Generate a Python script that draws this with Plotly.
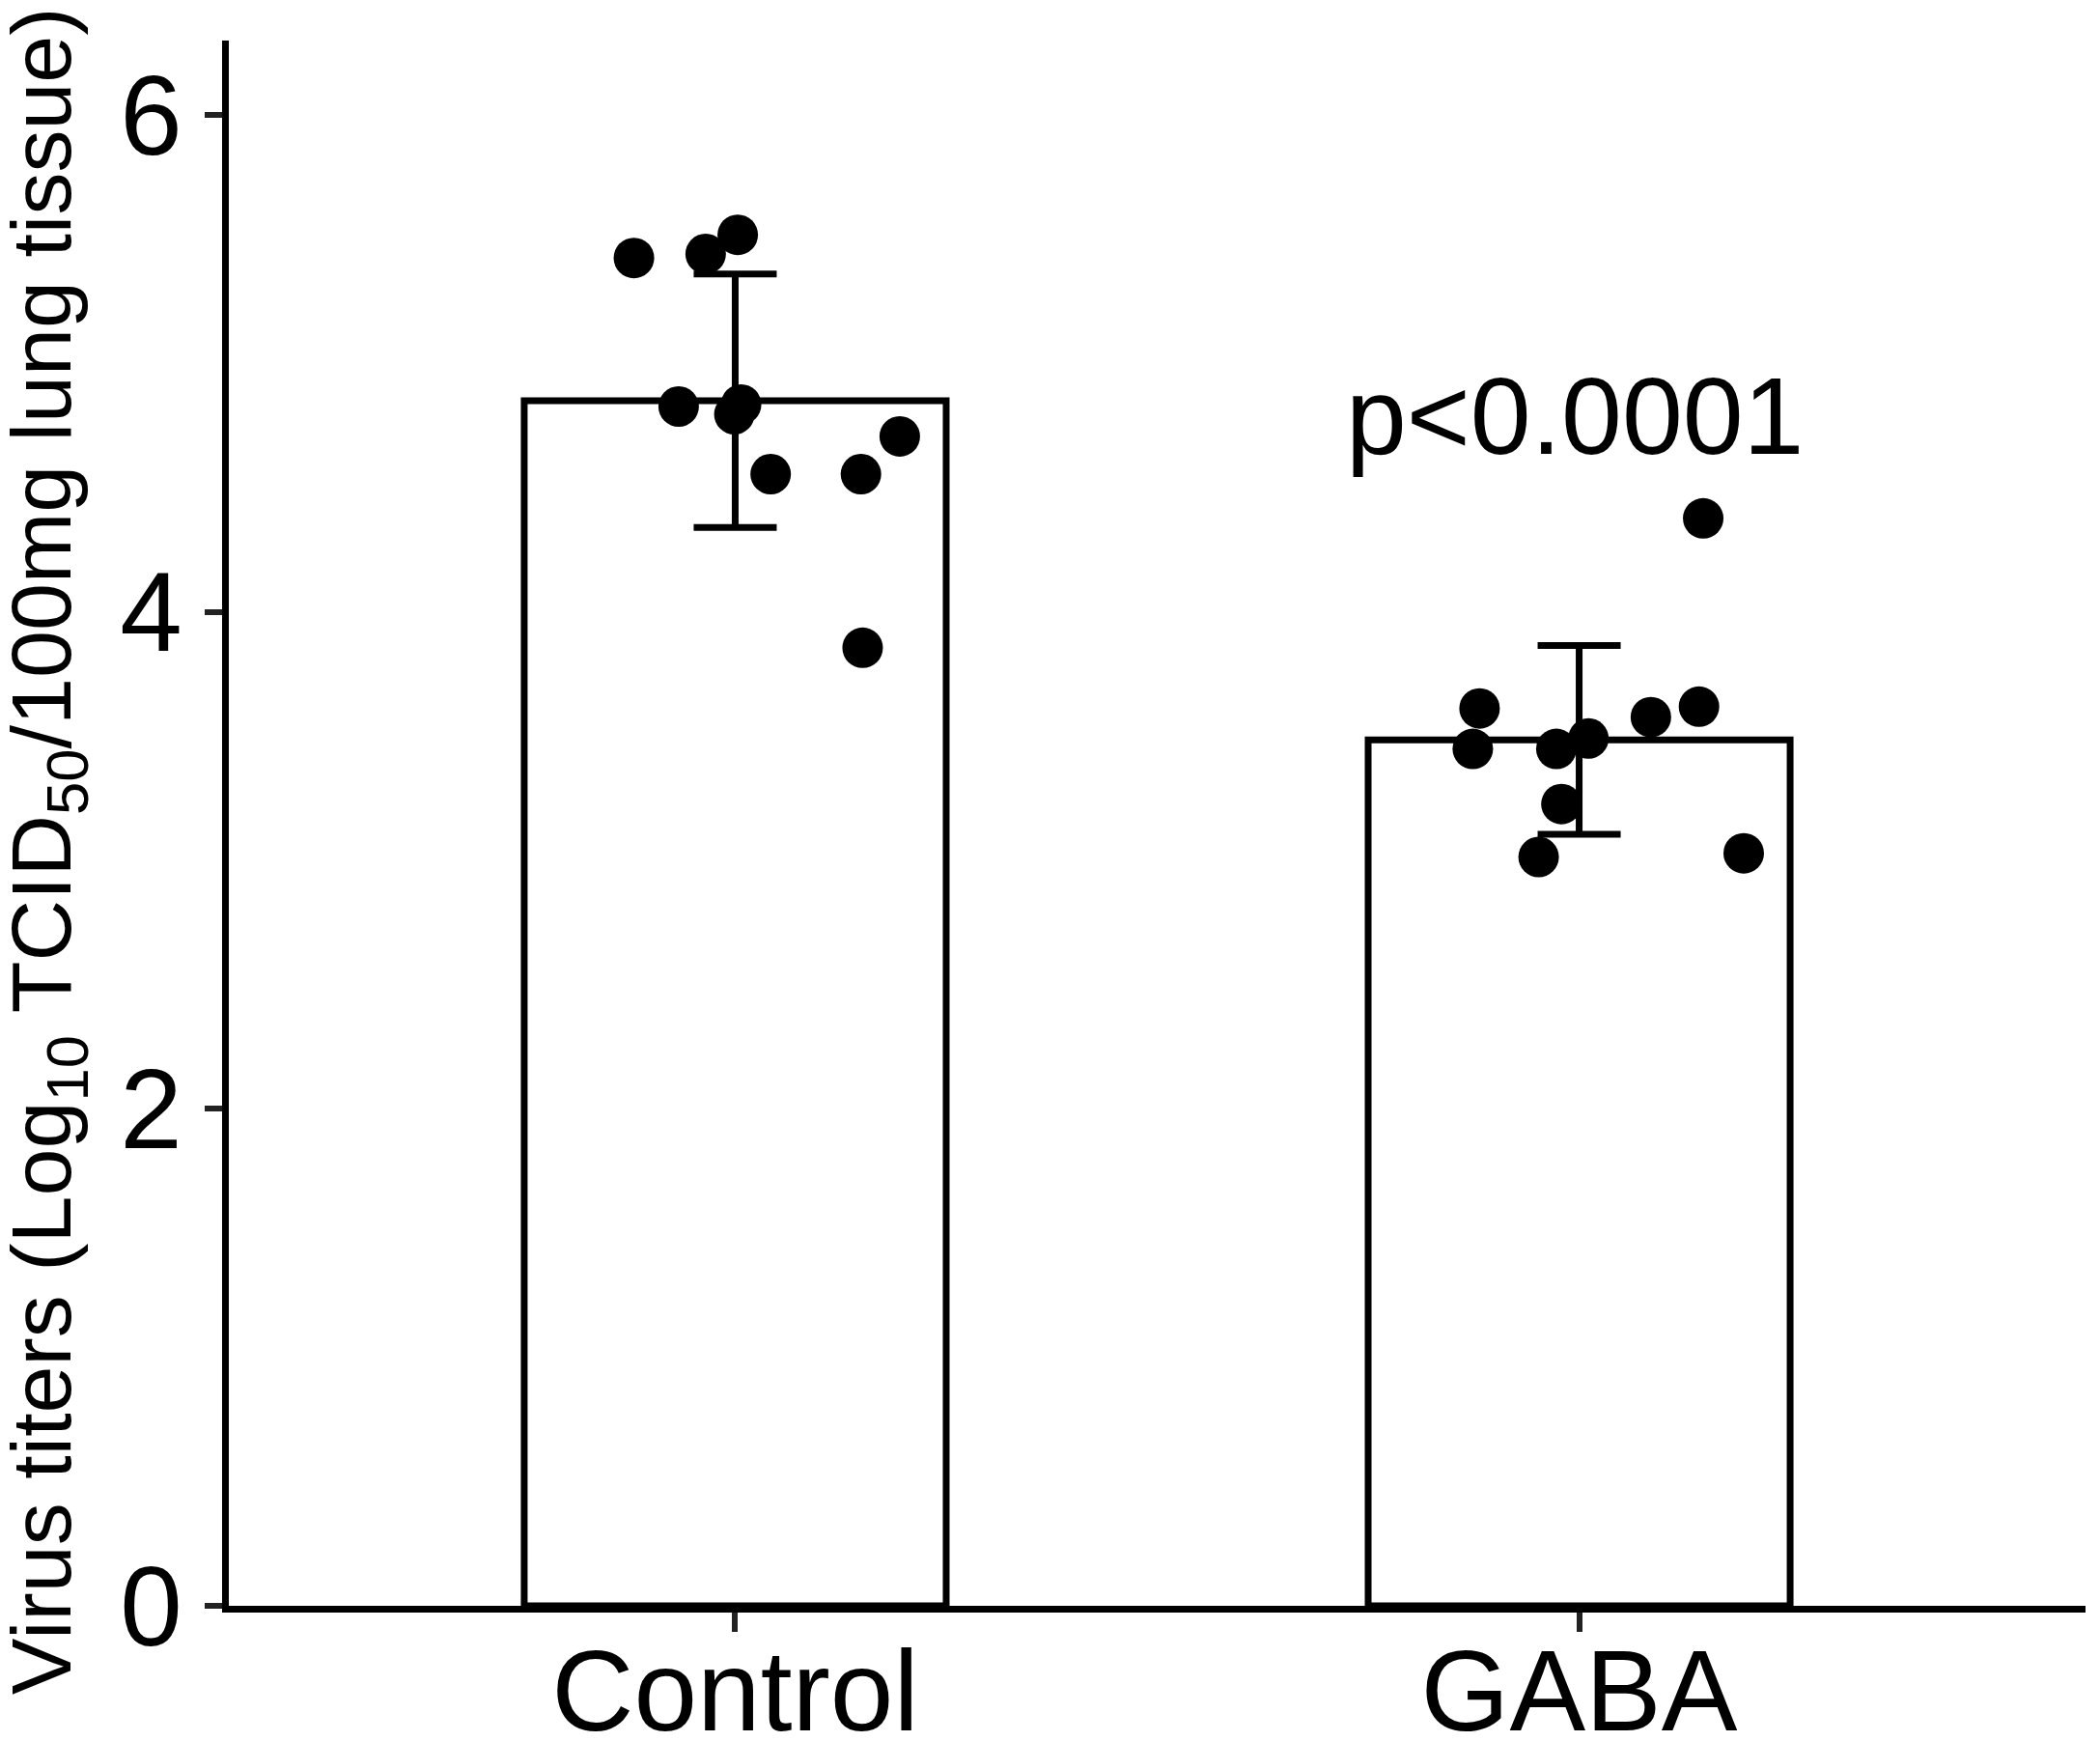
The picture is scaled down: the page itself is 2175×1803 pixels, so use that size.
import plotly.graph_objects as go

categories = ["Control", "GABA"]
means = [4.85, 3.485]
sds = [0.51, 0.38]
control_values = [5.425, 5.441, 5.518, 4.827, 4.835, 4.796, 4.707, 4.555, 4.555, 3.856]
control_jitter = [-0.120, -0.035, 0.003, -0.067, 0.007, -0.001, 0.195, 0.042, 0.149, 0.151]
gaba_values = [3.612, 3.449, 3.449, 3.491, 3.577, 3.619, 3.227, 3.014, 3.029, 4.377]
gaba_jitter = [-0.118, -0.126, -0.027, 0.011, 0.085, 0.142, -0.021, -0.048, 0.195, 0.147]
y_ticks = [0, 2, 4, 6]
p_label = "p<0.0001"
y_title = "Virus titers (Log<sub>10</sub> TCID<sub>50</sub>/100mg lung tissue)"

FONT = "Liberation Sans, Arial, sans-serif"
xpos = list(range(len(categories)))

fig = go.Figure()
fig.add_trace(go.Bar(
    x=xpos, y=means, width=0.5,
    marker=dict(color="white", line=dict(color="black", width=7)),
    error_y=dict(type="data", array=sds, visible=True, thickness=7, width=43, color="black"),
    showlegend=False, hoverinfo="skip",
))
pts_x = [0 + j for j in control_jitter] + [1 + j for j in gaba_jitter]
pts_y = control_values + gaba_values
fig.add_trace(go.Scatter(
    x=pts_x, y=pts_y, mode="markers",
    marker=dict(color="black", size=42, line=dict(width=0)),
    showlegend=False, hoverinfo="skip",
))

fig.add_annotation(
    x=0.995, y=4.79, xref="x", yref="y", text=p_label, showarrow=False,
    font=dict(family=FONT, size=113, color="black"), xanchor="center", yanchor="middle",
)
fig.add_annotation(
    x=-0.098, y=0.482, xref="paper", yref="paper", text=y_title, showarrow=False,
    textangle=-90, font=dict(family=FONT, size=88, color="black"),
    xanchor="center", yanchor="middle",
)

fig.update_layout(
    width=2175, height=1803, autosize=False,
    margin=dict(l=229, r=23, t=34, b=148, autoexpand=False),
    paper_bgcolor="white", plot_bgcolor="white",
    font=dict(family=FONT, color="black"),
    xaxis=dict(
        range=[-0.6, 1.6], tickvals=xpos, ticktext=categories, automargin=False,
        showline=True, linecolor="black", linewidth=7, mirror=False,
        ticks="outside", ticklen=20, tickwidth=6, tickcolor="#222",
        ticklabelstandoff=-40,
        tickfont=dict(family=FONT, size=118, color="black"),
        showgrid=False, zeroline=False,
    ),
    yaxis=dict(
        range=[0, 6.3], tickvals=y_ticks, automargin=False,
        showline=True, linecolor="black", linewidth=7,
        ticks="outside", ticklen=18, tickwidth=6, tickcolor="#222",
        tickfont=dict(family=FONT, size=116, color="black"),
        showgrid=False, zeroline=False,
    ),
)

fig.write_html("out.html")
